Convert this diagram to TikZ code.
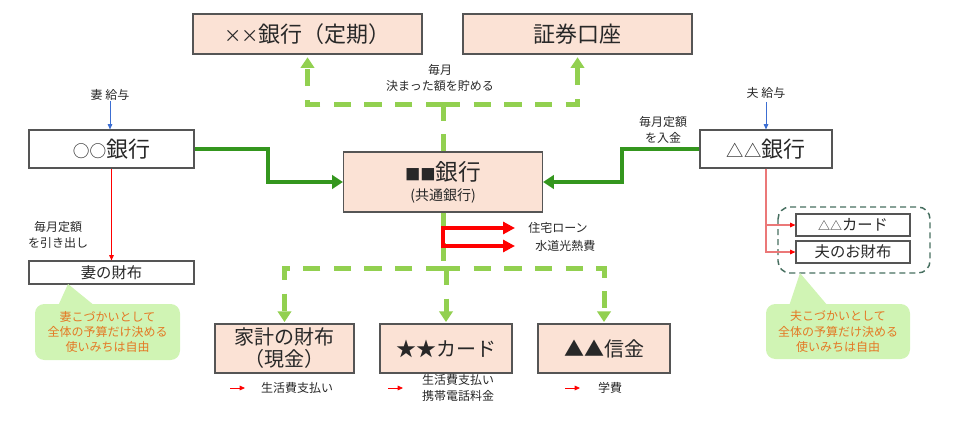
\documentclass[tikz,border=0pt]{standalone}
\usepackage{fontspec}
\setmainfont{Noto Sans CJK JP}
\usetikzlibrary{arrows.meta,calc}
\definecolor{boxfill}{RGB}{251,226,213}
\definecolor{boxline}{RGB}{85,85,85}
\definecolor{ltgreen}{RGB}{146,208,80}
\definecolor{dkgreen}{RGB}{52,150,30}
\definecolor{bubblefill}{RGB}{208,244,180}
\definecolor{orangetxt}{RGB}{228,120,36}
\definecolor{groupline}{RGB}{70,110,95}
\definecolor{txt}{RGB}{40,40,40}
\definecolor{pinkline}{RGB}{235,120,120}
\definecolor{bluearr}{RGB}{60,110,210}
\newcommand{\symsz}[2]{{\fontsize{#1}{#1}\selectfont #2}}
\begin{document}
\begin{tikzpicture}[x=0.75pt,y=-0.75pt,
  peach/.style={draw=boxline, line width=0.9pt, fill=boxfill, text=txt, inner sep=0pt},
  plain/.style={draw=boxline, line width=0.9pt, fill=white, text=txt, inner sep=0pt},
  big/.style={font=\fontsize{16.5}{20}\selectfont},
  mid/.style={font=\fontsize{15}{16.5}\selectfont},
  sml/.style={font=\fontsize{11.5}{14}\selectfont},
  small/.style={font=\fontsize{9}{12}\selectfont, text=txt, align=center, inner sep=0pt},
  bubtext/.style={font=\fontsize{9}{11.5}\selectfont, text=orangetxt, align=center, inner sep=0pt,
     fill=bubblefill, rounded corners=7pt},
  gdash/.style={draw=ltgreen, line width=3.75pt, dash pattern=on 13pt off 10pt},
  gtip/.style={-{Triangle[length=8pt,width=10pt]}},
  gthick/.style={draw=dkgreen, line width=3pt, -{Triangle[length=8pt,width=10pt]}},
  rthick/.style={draw=red, line width=3pt, -{Triangle[length=9pt,width=9pt]}},
  rthin/.style={draw=red, line width=0.6pt, -{Triangle[length=4pt,width=3.5pt]}},
  pthin/.style={draw=pinkline, line width=0.8pt, -{Triangle[length=4pt,width=3.5pt,color=red]}},
  bthin/.style={draw=bluearr, line width=0.6pt, -{Triangle[length=4pt,width=3.5pt]}}
]
\useasboundingbox (0,0) rectangle (960,446);

% top boxes
\node[peach, big, minimum width=171.75pt, minimum height=30pt] (tl) at (307.5,34) {\symsz{13}{××}銀行（定期）};
\node[peach, big, minimum width=171.75pt, minimum height=30pt] (tr) at (577.5,34) {証券口座};

% main bank
\node[peach, minimum width=149.25pt, minimum height=45pt, align=center, font=\fontsize{17}{15}\selectfont] (mb) at (443,182)
  {\symsz{11.5}{■■}銀行\\{\fontsize{10.5}{15}\selectfont (共通銀行)}};

% side banks
\node[plain, big, minimum width=123.75pt, minimum height=28.5pt] (wb) at (111.5,149) {\symsz{12.5}{○○}銀行};
\node[plain, big, minimum width=99pt, minimum height=28.5pt] (hb) at (766,149) {\symsz{13}{△△}銀行};

% wallets
\node[plain, sml, minimum width=123.75pt, minimum height=17.25pt] (ww) at (111.5,272.5) {妻の財布};
\node[plain, sml, minimum width=85.5pt, minimum height=16.5pt] (card) at (853,225) {\symsz{9}{△△}カード};
\node[plain, sml, minimum width=85.5pt, minimum height=16.5pt] (hw) at (853,252) {夫のお財布};
\draw[groupline, line width=1.1pt, dash pattern=on 4.5pt off 3pt, rounded corners=9pt] (778,207) rectangle (930,273);

% bottom boxes
\node[peach, mid, minimum width=104.25pt, minimum height=36.75pt, align=center] (kk) at (284.5,348.5) {家計の財布\\（現金）};
\node[peach, mid, minimum width=99pt, minimum height=36.75pt] (st) at (446,348.5) {★★カード};
\node[peach, mid, minimum width=99pt, minimum height=36.75pt] (sk) at (604,348.5) {▲▲信金};

% labels
\node[small] (save) at (440,78) {毎月\\決まった額を貯める};
\node[small] (dep) at (663,129.5) {毎月定額\\を入金};
\node[small] (wd) at (58,234.5) {毎月定額\\を引き出し};
\node[small] (wsal) at (110,95) {妻 給与};
\node[small] (hsal) at (766,93) {夫 給与};
\node[small, anchor=west] (loan) at (528,228) {住宅ローン};
\node[small, anchor=west] (util) at (535,246) {水道光熱費};
\node[small] (b1) at (297,388) {生活費支払い};
\node[small] (b2) at (458,387.5) {生活費支払い\\携帯電話料金};
\node[small] (b3) at (610,388) {学費};

% bubbles
\fill[bubblefill] (68,284) -- (58,306) -- (95,306) -- cycle;
\node[bubtext, minimum width=108.75pt, minimum height=42pt] (lbub) at (107.5,332) {妻こづかいとして\\全体の予算だけ決める\\使いみちは自由};
\fill[bubblefill] (800,273) -- (789,306) -- (828,306) -- cycle;
\node[bubtext, minimum width=108pt, minimum height=41.25pt] (rbub) at (838,331.5) {夫こづかいとして\\全体の予算だけ決める\\使いみちは自由};

% green dashed (top)
\coordinate (jt) at (443,104);
\draw[gdash] (mb.north) -- (jt);
\draw[gdash, gtip, shorten >=2pt] (jt) -| (tl.south);
\draw[gdash, gtip, shorten >=2pt] (jt) -| (tr.south);

% green dashed (bottom)
\coordinate (jb) at (443,268);
\draw[gdash] (mb.south) -- (jb);
\draw[gdash, gtip, shorten >=1pt] (jb) -| (kk.north);
\draw[gdash, gtip, shorten >=1pt] (jb) -| (sk.north);
\draw[gdash, gtip, shorten >=1pt] (st.north |- jb) -- (st.north);

% thick green arrows
\draw[gthick] (wb.east) -- ++(73,0) |- (mb.west);
\draw[gthick] (hb.west) -- ++(-77,0) |- (mb.east);

% red thick arrows
\coordinate (r1) at (443,228);
\coordinate (r2) at (443,246);
\coordinate (r1e) at (515,228);
\coordinate (r2e) at (515,246);
\draw[red, line width=3pt, line cap=rect] (r1) -- (r2);
\draw[rthick] (r1) -- (r1e);
\draw[rthick] (r2) -- (r2e);

% thin arrows
\draw[bthin] (wsal.south) -- (wsal.south |- wb.north);
\draw[bthin] (hsal.south) ++(0,3) -- (hsal.south |- hb.north);
\draw[rthin] (wb.south) -- (ww.north);
\draw[pthin] (hb.south) |- (card.west);
\draw[pthin] (hb.south) |- (hw.west);

% bottom small arrows
\coordinate (a1s) at (230,388); \coordinate (a1e) at (245,388);
\coordinate (a2s) at (388,388); \coordinate (a2e) at (403,388);
\coordinate (a3s) at (565,388); \coordinate (a3e) at (580,388);
\draw[rthin] (a1s) -- (a1e);
\draw[rthin] (a2s) -- (a2e);
\draw[rthin] (a3s) -- (a3e);
\end{tikzpicture}
\end{document}
